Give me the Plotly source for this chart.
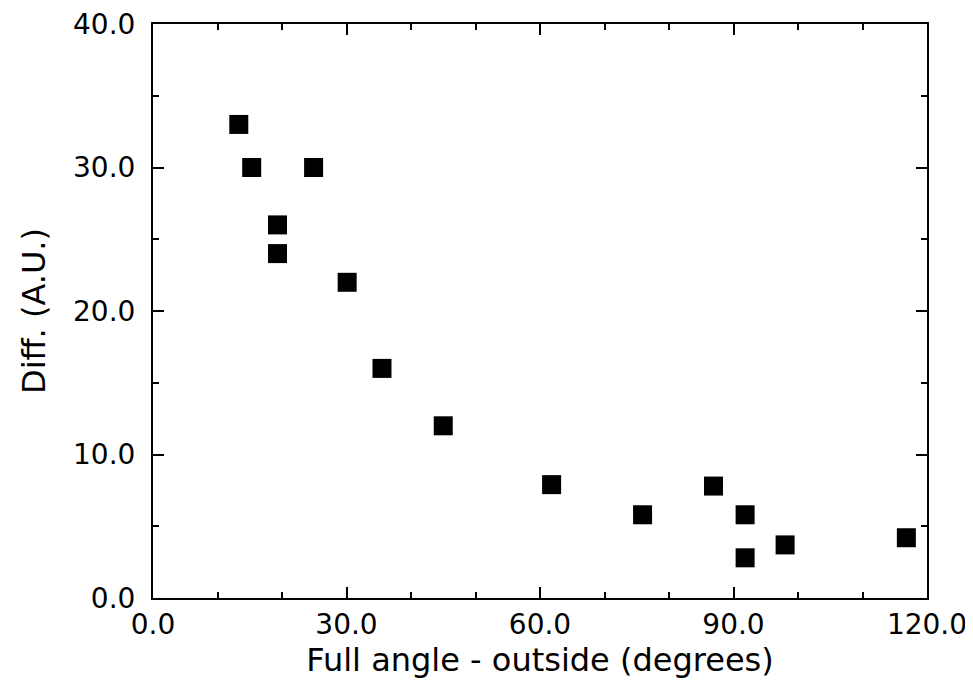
import plotly.graph_objects as go

angle = [13.3, 15.3, 24.9, 19.3, 19.3, 30.1, 35.5, 45.0, 61.8, 75.9, 86.9, 91.8, 91.8, 98.0, 116.8]
diff = [33.0, 30.0, 30.0, 26.0, 24.0, 22.0, 16.0, 12.0, 7.9, 5.8, 7.8, 5.8, 2.8, 3.7, 4.2]

xticks = [0, 30, 60, 90, 120]
yticks = [0, 10, 20, 30, 40]

fig = go.Figure()
fig.add_trace(go.Scatter(
    x=angle, y=diff, mode="markers",
    marker=dict(symbol="square", size=19, color="black", line=dict(width=0)),
    showlegend=False, cliponaxis=False,
))

font = dict(family="DejaVu Sans, sans-serif", color="black")
axis_common = dict(
    showgrid=False, zeroline=False, showline=True, linecolor="black", linewidth=2,
    mirror="allticks", ticks="inside", ticklen=11, tickwidth=2, tickcolor="black",
    tickfont=dict(size=28, **font), automargin=False, ticklabeloverflow="allow",
)
fig.update_xaxes(
    range=[0, 120], tickvals=xticks, ticktext=[f"{v:.1f}" for v in xticks],
    minor=dict(ticks="inside", dtick=10, ticklen=6, tickwidth=2, tickcolor="black"),
    title=dict(text="Full angle - outside (degrees)", font=dict(size=32, **font), standoff=8),
    ticklabelstandoff=0,
    **axis_common,
)
fig.update_yaxes(
    range=[0, 40], tickvals=yticks, ticktext=[f"{v:.1f}" for v in yticks],
    minor=dict(ticks="inside", dtick=5, ticklen=6, tickwidth=2, tickcolor="black"),
    title=dict(text="Diff. (A.U.)", font=dict(size=32, **font), standoff=18),
    ticklabelstandoff=10,
    **axis_common,
)
fig.update_layout(
    width=962, height=680,
    margin=dict(l=145, r=43, t=16, b=90),
    paper_bgcolor="white", plot_bgcolor="white",
)
fig.write_html("out.html")
